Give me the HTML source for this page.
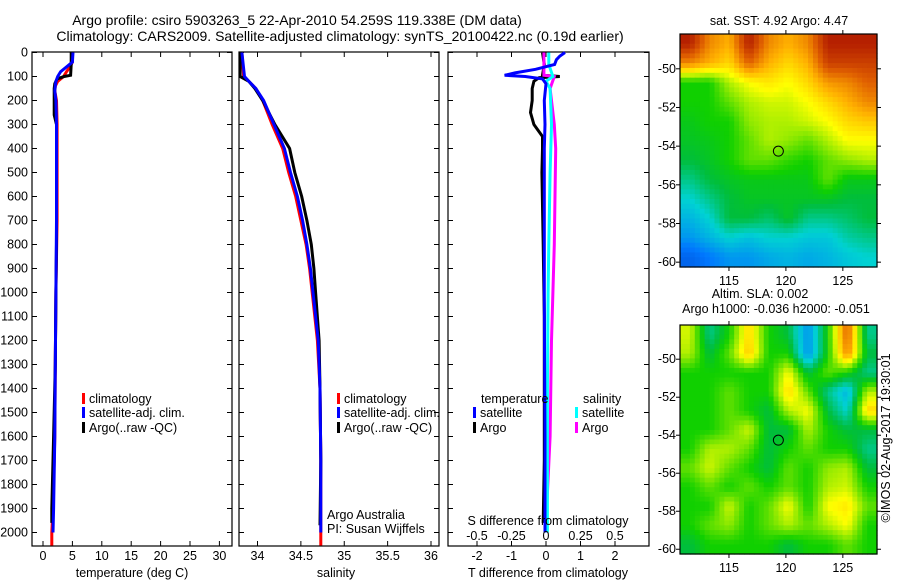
<!DOCTYPE html>
<html><head><meta charset="utf-8"><style>
body{margin:0;background:#fff;}
svg{display:block;font-family:"Liberation Sans",sans-serif;font-size:12.5px;}
</style></head><body>
<svg id="fig" width="900" height="580" viewBox="0 0 900 580" xmlns="http://www.w3.org/2000/svg">
<rect width="900" height="580" fill="#fff"/>
<text x="297" y="25" text-anchor="middle" font-size="14">Argo profile: csiro 5903263_5 22-Apr-2010 54.259S 119.338E (DM data)</text>
<text x="340" y="41" text-anchor="middle" font-size="14">Climatology: CARS2009. Satellite-adjusted climatology: synTS_20100422.nc (0.19d earlier)</text>
<g id="layer"></g>
</svg>
<script>
// ---- profile data ----
const tDepthArgo=[0,50,95,100,110,130,150,200,260,300,500,800,1000,1300,1600,1900,1960];
const tArgo=[4.8,4.8,4.7,3.6,2.4,2.0,1.9,1.9,1.9,2.3,2.3,2.3,2.2,2.1,1.8,1.5,1.5];
const tDepthClim=[0,40,60,80,100,120,140,160,200,300,700,1000,1300,1600,1900,2000,2054];
const tClim=[5.0,5.0,4.6,4.0,3.5,2.5,2.1,2.0,2.3,2.4,2.4,2.2,2.1,2.0,1.7,1.5,1.5];
const tDepthSat=[0,40,60,80,100,120,140,160,200,300,700,1000,1300,1600,1900,2000];
const tSat=[5.1,5.0,4.0,3.0,2.5,2.2,2.1,2.0,2.2,2.3,2.3,2.2,2.1,2.0,1.8,1.7];
const sDepth=[0,100,120,150,200,300,400,500,600,700,800,900,1000,1200,1400,1700,2000,2054];
const sClim=[33.82,33.84,33.9,33.98,34.06,34.17,34.29,34.36,34.44,34.5,34.56,34.6,34.63,34.69,34.72,34.73,34.73,34.73];
const sSat=[33.82,33.85,33.9,33.98,34.07,34.19,34.31,34.38,34.46,34.52,34.57,34.61,34.64,34.7,34.72,34.73,34.73];
const sArgo=[33.8,33.8,33.9,33.97,34.06,34.2,34.37,34.43,34.51,34.57,34.62,34.65,34.67,34.71,34.72,34.73,34.72];
const tdSatDepth=[0,15,30,50,70,85,95,100,110,130,200,300,400,600,800,1000,1300,1600,1900,2000];
const tdSat=[0.55,0.4,0.3,0.25,-0.3,-0.9,-1.2,-0.6,-0.1,0,-0.05,-0.03,-0.05,-0.05,-0.05,-0.05,-0.04,-0.03,-0.03,-0.03];
const tdArgoDepth=[0,50,95,100,105,120,150,200,250,300,350,400,500,800,1100,1400,1700,1960];
const tdArgo=[-0.1,-0.05,-0.1,0.4,-0.2,-0.35,-0.4,-0.4,-0.45,-0.35,-0.1,-0.1,-0.12,-0.08,-0.05,-0.05,-0.05,-0.08];
const sdSatDepth=[0,50,100,120,150,300,500,800,1000,1400,1800,2000];
const sdSat=[0.02,0.02,0.05,0.0,0.03,0.04,0.03,0.02,0.015,0.01,0.01,0.01];
const sdArgoDepth=[0,95,100,150,300,400,800,1200,1600,1960];
const sdArgo=[-0.015,-0.015,0.06,0.03,0.06,0.07,0.06,0.04,0.03,0.0];
const depthTicks=[0,100,200,300,400,500,600,700,800,900,1000,1100,1200,1300,1400,1500,1600,1700,1800,1900,2000];
const tTicks=[0,5,10,15,20,25,30];
const sTicks=[34,34.5,35,35.5,36];
const tdTicks=[-2,-1,0,1,2];
const sdTicks=[-0.5,-0.25,0,0.25,0.5];
const sdTickLabels=["-0.5","-0.25","0","0.25","0.5"];
// ---- map data (normalized colour index 0..1) ----
const sstGrid=[
[0.95,0.8,0.75,0.95,0.8,0.75,0.8,0.95,0.95,0.95],
[0.8,0.75,0.7,0.85,0.75,0.7,0.75,0.9,0.9,0.9],
[0.5,0.5,0.6,0.65,0.68,0.65,0.7,0.78,0.8,0.85],
[0.5,0.5,0.55,0.6,0.62,0.62,0.65,0.7,0.75,0.8],
[0.48,0.5,0.5,0.58,0.6,0.6,0.62,0.65,0.7,0.72],
[0.47,0.48,0.5,0.55,0.6,0.58,0.55,0.6,0.65,0.65],
[0.45,0.47,0.5,0.55,0.55,0.52,0.5,0.55,0.58,0.6],
[0.4,0.45,0.47,0.48,0.48,0.48,0.48,0.55,0.48,0.48],
[0.35,0.4,0.45,0.47,0.47,0.47,0.47,0.47,0.45,0.45],
[0.3,0.35,0.45,0.45,0.42,0.47,0.4,0.4,0.42,0.45],
[0.25,0.3,0.35,0.32,0.35,0.35,0.33,0.33,0.38,0.4],
[0.15,0.2,0.25,0.25,0.28,0.3,0.28,0.3,0.33,0.35]];
const slaGrid=[
[0.62,0.4,0.5,0.7,0.5,0.45,0.25,0.5,0.85,0.4],
[0.6,0.45,0.55,0.72,0.5,0.5,0.25,0.5,0.8,0.45],
[0.5,0.5,0.5,0.5,0.5,0.65,0.45,0.55,0.5,0.4],
[0.5,0.5,0.55,0.5,0.5,0.7,0.55,0.4,0.3,0.6],
[0.5,0.5,0.55,0.5,0.45,0.6,0.65,0.45,0.35,0.7],
[0.5,0.5,0.55,0.62,0.45,0.45,0.6,0.5,0.45,0.45],
[0.5,0.6,0.6,0.55,0.45,0.5,0.55,0.5,0.5,0.4],
[0.55,0.62,0.55,0.5,0.45,0.55,0.5,0.58,0.6,0.45],
[0.5,0.55,0.5,0.55,0.5,0.55,0.5,0.6,0.62,0.5],
[0.5,0.5,0.62,0.5,0.55,0.65,0.5,0.65,0.68,0.55],
[0.5,0.55,0.58,0.5,0.55,0.6,0.55,0.6,0.65,0.5],
[0.45,0.5,0.5,0.5,0.5,0.45,0.5,0.5,0.55,0.5]];
const lonTicks=[115,120,125];
const latTicks=[-50,-52,-54,-56,-58,-60];
const argoLon=119.338, argoLat=-54.259;

const NS="http://www.w3.org/2000/svg";
const L=document.getElementById('layer');
function mk(tag,attrs,parent){const e=document.createElementNS(NS,tag);for(const k in attrs)e.setAttribute(k,attrs[k]);(parent||L).appendChild(e);return e;}
function txt(s,x,y,anchor,parent){const e=mk('text',{x:x,y:y,'text-anchor':anchor||'start'},parent);e.textContent=s;return e;}

const Y0=52.5, YTOP=52, YBOT=546;
const yD=d=>Y0+d*0.24;
const P1={l:32,r:232,x:v=>43+v*5.88};
const P2={l:239,r:439,x:v=>257.5+(v-34)*86.75};
const P3={l:448,r:649,x:v=>546+v*34.5};
const sdX=v=>546+v*4*34.5;

function panel(p,name){
  const g=mk('g',{});
  
  
  const r=mk('rect',{x:p.l,y:YTOP,width:p.r-p.l,height:YBOT-YTOP,fill:'none',stroke:'#000','stroke-width':1.2},g);
  
  
  depthTicks.forEach(d=>{mk('line',{x1:p.l,x2:p.l+5,y1:yD(d),y2:yD(d),stroke:'#000'},g);mk('line',{x1:p.r,x2:p.r-5,y1:yD(d),y2:yD(d),stroke:'#000'},g);});
  return g;
}
function line(xs,ds,xf,color,name,w){
  const pts=xs.map((v,i)=>xf(v).toFixed(1)+','+yD(ds[i]).toFixed(1)).join(' ');
  const e=mk('polyline',{points:pts,fill:'none',stroke:color,'stroke-width':w||3,'stroke-linejoin':'miter'});
  
  
}
// Panel 1
panel(P1,'temperature-panel');
depthTicks.forEach(d=>{const t=txt(String(d),28,yD(d)+4,'end');});
tTicks.forEach(v=>{mk('line',{x1:P1.x(v),x2:P1.x(v),y1:YBOT,y2:YBOT-5,stroke:'#000'});mk('line',{x1:P1.x(v),x2:P1.x(v),y1:YTOP,y2:YTOP+5,stroke:'#000'});const t=txt(String(v),P1.x(v),560,'middle');});
line(tClim,tDepthClim,P1.x,'#f00','temperature-climatology-line');
line(tArgo,tDepthArgo,P1.x,'#000','temperature-argo-line');
line(tSat,tDepthSat,P1.x,'#00f','temperature-satellite-line');
{const t=txt('temperature (deg C)',132,577,'middle');}
// Panel 2
panel(P2,'salinity-panel');
sTicks.forEach(v=>{mk('line',{x1:P2.x(v),x2:P2.x(v),y1:YBOT,y2:YBOT-5,stroke:'#000'});mk('line',{x1:P2.x(v),x2:P2.x(v),y1:YTOP,y2:YTOP+5,stroke:'#000'});const t=txt(String(v),P2.x(v),560,'middle');});
line(sClim,sDepth,P2.x,'#f00','salinity-climatology-line');
line(sArgo,sDepth.slice(0,sArgo.length).map((d,i)=>i===sArgo.length-1?1970:d),P2.x,'#000','salinity-argo-line');
line(sSat,sDepth.slice(0,sSat.length),P2.x,'#00f','salinity-satellite-line');
{const t=txt('salinity',336,577,'middle');}
{const t=txt('Argo Australia',327,519);}
{const t=txt('PI: Susan Wijffels',327,533);}
// Panel 3
panel(P3,'difference-panel');
tdTicks.forEach(v=>{mk('line',{x1:P3.x(v),x2:P3.x(v),y1:YBOT,y2:YBOT-5,stroke:'#000'});mk('line',{x1:P3.x(v),x2:P3.x(v),y1:YTOP,y2:YTOP+5,stroke:'#000'});const t=txt(String(v),P3.x(v),560,'middle');});
line(tdArgo,tdArgoDepth,P3.x,'#000','t-diff-argo-line');
line(sdArgo,sdArgoDepth,sdX,'#f0f','s-diff-argo-line');
line(sdSat,sdSatDepth,sdX,'#0ff','s-diff-satellite-line');
line(tdSat,tdSatDepth,P3.x,'#00f','t-diff-satellite-line');
sdTicks.forEach((v,i)=>{const t=txt(sdTickLabels[i],sdX(v),540,'middle');});
{const t=txt('S difference from climatology',548,525,'middle');}
{const t=txt('T difference from climatology',548,577,'middle');}
// Legends
function legendEntry(x,y,color,label,name){
  const g=mk('g',{});
  
  
  mk('rect',{x:x,y:y-10,width:3,height:11,fill:color},g);
  txt(label,x+7,y,'start',g);
}
[[82,'temperature'],[337,'salinity']].forEach(([x,n])=>{
  legendEntry(x,403,'#f00','climatology','legend-'+n+'-climatology');
  legendEntry(x,417,'#00f','satellite-adj. clim.','legend-'+n+'-satellite');
  legendEntry(x,432,'#000','Argo(..raw -QC)','legend-'+n+'-argo');
});
{const t=txt('temperature',481,403);}
{const t=txt('salinity',583,403);}
legendEntry(473,417,'#00f','satellite','legend-t-diff-satellite');
legendEntry(473,432,'#000','Argo','legend-t-diff-argo');
legendEntry(575,417,'#0ff','satellite','legend-s-diff-satellite');
legendEntry(575,432,'#f0f','Argo','legend-s-diff-argo');

// Maps
const stops=[[0,[0,40,180]],[0.2,[0,120,255]],[0.35,[0,210,210]],[0.45,[0,190,60]],[0.5,[16,208,0]],[0.6,[176,240,0]],[0.65,[255,255,0]],[0.75,[255,176,0]],[0.85,[224,96,0]],[1,[160,0,0]]];
function cmap(v){v=Math.max(0,Math.min(1,v));for(let i=1;i<stops.length;i++){if(v<=stops[i][0]){const a=stops[i-1],b=stops[i];const t=(v-a[0])/(b[0]-a[0]);const c=a[1].map((c0,k)=>Math.round(c0+(b[1][k]-c0)*t));return 'rgb('+c.join(',')+')';}}return 'rgb(160,0,0)';}
function map(grid,top,bottom,name){
  const l=680,r=877,lon0=110.7,lon1=128.0,lat0=-48.2,lat1=-60.25;
  const xL=lon=>l+(lon-lon0)/(lon1-lon0)*(r-l);
  const yL=lat=>top+(lat-lat0)/(lat1-lat0)*(bottom-top);
  const g=mk('g',{});
  
  
  const R=grid.length,C=grid[0].length,sub=4;
  const cw=(r-l)/(C*sub),ch=(bottom-top)/(R*sub);
  for(let i=0;i<R*sub;i++)for(let j=0;j<C*sub;j++){
    const fy=Math.max(0,Math.min(R-1,(i+0.5)/sub-0.5)),fx=Math.max(0,Math.min(C-1,(j+0.5)/sub-0.5));
    const i0=Math.floor(fy),j0=Math.floor(fx),i1=Math.min(R-1,i0+1),j1=Math.min(C-1,j0+1),ty=fy-i0,tx=fx-j0;
    const v=grid[i0][j0]*(1-tx)*(1-ty)+grid[i0][j1]*tx*(1-ty)+grid[i1][j0]*(1-tx)*ty+grid[i1][j1]*tx*ty;
    const c=mk('rect',{x:(l+j*cw).toFixed(2),y:(top+i*ch).toFixed(2),width:(cw+0.6).toFixed(2),height:(ch+0.6).toFixed(2),fill:cmap(v)},g);
    
    
  }
  mk('rect',{x:l,y:top,width:r-l,height:bottom-top,fill:'none',stroke:'#000','stroke-width':1.2},g);
  latTicks.forEach(v=>{const y=yL(v);mk('line',{x1:l,x2:l-4,y1:y,y2:y,stroke:'#000'},g);mk('line',{x1:r,x2:r+4,y1:y,y2:y,stroke:'#000'},g);const t=txt(String(v),676,y+4,'end',g);});
  lonTicks.forEach(v=>{const x=xL(v);mk('line',{x1:x,x2:x,y1:bottom,y2:bottom+4,stroke:'#000'},g);mk('line',{x1:x,x2:x,y1:top,y2:top-4,stroke:'#000'},g);const t=txt(String(v),x,bottom+18,'middle',g);});
  const m=mk('circle',{cx:xL(argoLon),cy:yL(argoLat),r:5,fill:'none',stroke:'#000','stroke-width':1},g);
  
  
}
map(sstGrid,34,267,'sst-map');
map(slaGrid,325,554,'sla-map');
{const t=txt('sat. SST: 4.92  Argo: 4.47',779,25,'middle');}
{const t=txt('Altim. SLA: 0.002',760,298,'middle');}
{const t=txt('Argo h1000: -0.036 h2000: -0.051',776,313,'middle');}
{const t=txt('©IMOS 02-Aug-2017 19:30:01',0,0,'middle');t.setAttribute('transform','translate(890,438) rotate(-90)');}
</script>
</body></html>
